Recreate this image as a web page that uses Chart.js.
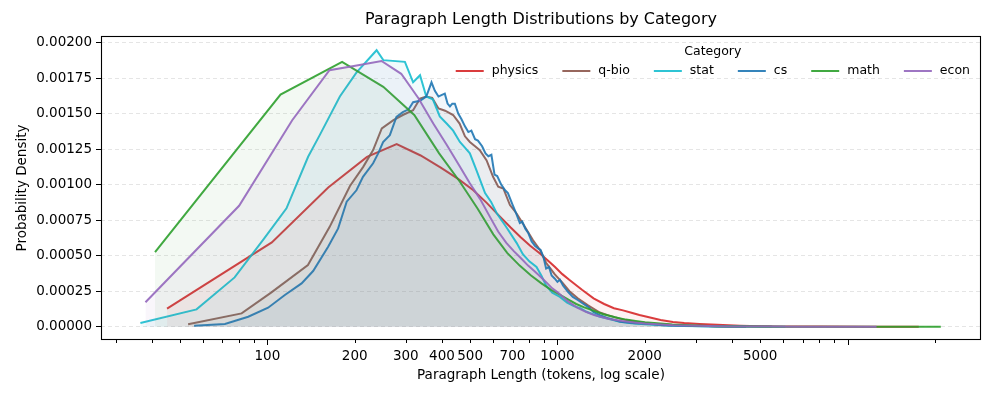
<!DOCTYPE html>
<html>
<head>
<meta charset="utf-8">
<script src="https://cdn.jsdelivr.net/npm/chart.js@4/dist/chart.umd.min.js"></script>
<style>
  html, body { margin: 0; padding: 0; background: #fff; }
  #wrap { width: 996px; height: 399px; position: relative; }
</style>
</head>
<body>
<div id="wrap"><canvas id="c" width="996" height="399"></canvas></div>
<script>
// ---- data ----
const categories = ['physics', 'q-bio', 'stat', 'cs', 'math', 'econ'];
const colors = ['214,39,40', '140,86,75', '23,190,207', '31,119,180', '44,160,44', '148,103,189'];

const physicsX = [45.1,103.6,162.1,220.6,279.1,337.6,396.1,454.6,513.1,571.6,630.1,688.6,747.1,805.6,864.1,922.6,981.1,1039.6,1098.1,1215.1,1332.1,1449.1,1566.1,1683.1,1800.1,1917.1,2034.1,2268.1,2502.1,2736.1,3087.1,3555.1,4257.1,5000,6000,8000,12000,17600];
const physicsY = [0.000127,0.000593,0.00098,0.001195,0.001285,0.001205,0.00112,0.00104,0.00096,0.00087,0.00078,0.0007,0.00063,0.00057,0.00052,0.00047,0.00042,0.00037,0.00033,0.00026,0.0002,0.00016,0.00013,0.000115,0.000098,0.000082,0.00007,0.000047,0.000034,0.000026,0.000019,0.000013,0.000007,0.000004,0.000002,0.0000008,0.0000003,0.0000001];

const qbioX = [53.3,81.5,103,138,164,192.6,214,231.5,248,272,293,318,336,353,370,389,410,437,460,480,499,520,540,570,600,625,651,686,723,760,823,871,914,978,1040,1100,1175,1275,1400,1500,1650,1850,2100,2500,3000,4000,5500];
const qbioY = [0.000017,0.000094,0.00024,0.000434,0.000703,0.00099,0.001125,0.001243,0.001395,0.001454,0.00149,0.001524,0.001606,0.00162,0.00161,0.001536,0.00152,0.00149,0.00143,0.00134,0.0013,0.00127,0.001243,0.00117,0.001055,0.000985,0.000973,0.000856,0.000797,0.000727,0.00061,0.00054,0.00045,0.00037,0.00031,0.00025,0.0002,0.00015,0.0001,0.00008,0.000055,0.000035,0.000022,0.000012,0.000006,0.000002,0.0000007];

const statX = [36.5,57,77.1,97.4,116.4,138.2,151.7,177.8,203,238,251,298,318,336,353,372,393,415,437,461,480,499,526,563,590,617,667,723,760,800,847,880,914,960,1020,1080,1140,1200,1260,1320,1402,1500,1640,1800,2000,2300,2700,3200,4000,5000,6100];
const statY = [0.000026,0.000122,0.000347,0.00062,0.000833,0.001196,0.00135,0.00162,0.00179,0.001946,0.001876,0.001864,0.00172,0.00177,0.00162,0.0016,0.00148,0.00143,0.00138,0.0013,0.00126,0.00122,0.0011,0.00094,0.00088,0.0008,0.0007,0.00059,0.00051,0.00046,0.00042,0.00036,0.00029,0.00024,0.00021,0.00017,0.000145,0.00013,0.000105,0.00009,0.00007,0.000055,0.000035,0.000025,0.000017,0.00001,0.000005,0.000003,0.000001,0.0000005,0.0000002];

const csX = [55.9,71.4,85.9,100.6,114.9,131.2,143.8,162,175.4,187.7,202.8,213.6,231.5,241,250.6,264.4,278.6,293,307,318,336,353,368,378,389,398,409,418,426,434,443,455,467,480,493,505,520,532,550,565,578,592,607,620,640,660,675,700,720,742,756,775,793,815,836,860,875,895,914,935,955,978,1000,1020,1045,1087,1130,1175,1220,1275,1330,1402,1500,1650,1850,2085,2400,2900,3500,4470];
const csY = [0.000007,0.000019,0.00007,0.000134,0.000223,0.000305,0.000392,0.000563,0.000692,0.00088,0.00096,0.001055,0.00115,0.00122,0.0013,0.001348,0.001477,0.00151,0.00153,0.00158,0.00159,0.00162,0.00172,0.00166,0.00162,0.00163,0.00164,0.00157,0.00155,0.00157,0.00157,0.0015,0.00146,0.00141,0.00137,0.00138,0.00132,0.00131,0.00127,0.00122,0.0012,0.00121,0.00107,0.00106,0.001,0.00096,0.00094,0.00086,0.0008,0.00073,0.00074,0.00069,0.00066,0.0006,0.00057,0.00055,0.00054,0.00049,0.00041,0.00042,0.00036,0.00034,0.000316,0.00033,0.00029,0.000246,0.00021,0.000188,0.000165,0.00014,0.000105,0.000082,0.000059,0.000035,0.000025,0.000019,0.000009,0.000005,0.000002,0.0000005];

const mathX = [41,111,181,251,321,391,461,531,601,671,741,811,881,951,1021,1091,1161,1231,1301,1441,1581,1721,1861,2001,2491,2981,3481,4481,5481,7001,10001,15001,20971];
const mathY = [0.000525,0.001634,0.001864,0.001688,0.00149,0.00122,0.00102,0.00083,0.00065,0.00052,0.00043,0.00036,0.000305,0.00026,0.000225,0.00019,0.00016,0.000138,0.00012,0.000088,0.000066,0.00005,0.00004,0.000032,0.000016,0.000008,0.000004,0.0000015,0.0000006,0.0000002,0.0000001,0.00000005,0.00000003];

const econX = [38,79.9,121.8,163.7,205.6,247.5,289.4,331.3,373.2,415.1,457,498.9,540.8,582.7,624.6,666.5,708.4,750.3,792.2,834.1,876,917.9,959.8,1001.7,1085.5,1169.3,1253.1,1336.9,1504.5,1672.1,1839.7,2007.3,2509.9,3012.7,4018.3,5023.9,7035.1,10051,12590];
const econY = [0.000172,0.000851,0.001453,0.001805,0.00184,0.00187,0.00178,0.00161,0.00143,0.00128,0.00114,0.00101,0.0009,0.00078,0.00067,0.00059,0.00053,0.00048,0.00043,0.00039,0.00035,0.00031,0.00027,0.000242,0.00018,0.000135,0.000105,0.000082,0.000055,0.00004,0.00003,0.000022,0.000011,0.000006,0.000002,0.0000008,0.0000003,0.0000001,0.00000005];

const xTickValues = [30,40,50,60,70,80,90,100,200,300,400,500,600,700,800,900,1000,2000,3000,4000,5000,6000,7000,8000,9000,10000,20000];
const xTickLabels = [100,200,300,400,500,700,1000,2000,5000];
const xMajor = [100,1000,10000];
const yTickValues = [0,0.00025,0.0005,0.00075,0.001,0.00125,0.0015,0.00175,0.002];

const titleText = 'Paragraph Length Distributions by Category';
const xTitle = 'Paragraph Length (tokens, log scale)';
const yTitle = 'Probability Density';
const legendTitle = 'Category';

// ---- build chart ----
const seriesX = [physicsX, qbioX, statX, csX, mathX, econX];
const seriesY = [physicsY, qbioY, statY, csY, mathY, econY];
const FONT = 'DejaVu Sans';

const datasets = categories.map((name, i) => ({
  label: name,
  data: seriesX[i].map((x, k) => ({ x: x, y: seriesY[i][k] })),
  borderColor: 'rgba(' + colors[i] + ',0.9)',
  backgroundColor: 'rgba(' + colors[i] + ',0.06)',
  borderWidth: 2,
  pointRadius: 0,
  tension: 0,
  fill: 'origin',
  order: categories.length - i
}));

const decor = {
  id: 'decor',
  afterDraw(chart) {
    const { ctx, chartArea: a, scales } = chart;
    ctx.save();
    // frame
    ctx.strokeStyle = '#000';
    ctx.lineWidth = 1.1;
    ctx.strokeRect(Math.round(a.left) + 0.5, Math.round(a.top) + 0.5,
                   Math.round(a.right - a.left) - 1, Math.round(a.bottom - a.top) - 1);
    // x tick marks
    ctx.lineWidth = 1;
    xTickValues.forEach(v => {
      const px = Math.round(scales.x.getPixelForValue(v)) + 0.5;
      const len = xMajor.includes(v) ? 5 : 3;
      ctx.beginPath();
      ctx.moveTo(px, a.bottom);
      ctx.lineTo(px, a.bottom + len);
      ctx.stroke();
    });
    // title
    ctx.fillStyle = '#000';
    ctx.font = '16px "' + FONT + '"';
    ctx.textAlign = 'center';
    ctx.textBaseline = 'middle';
    ctx.fillText(titleText, (a.left + a.right) / 2, 20);
    // legend
    ctx.font = '12.5px "' + FONT + '"';
    const handle = 28, gap = 8, colGap = 24;
    const widths = categories.map(c => ctx.measureText(c).width);
    let total = 0;
    widths.forEach((w, i) => { total += handle + gap + w + (i < widths.length - 1 ? colGap : 0); });
    const right = 970;
    let x = right - total;
    const startX = x;
    const rowY = 71;
    ctx.textAlign = 'left';
    categories.forEach((c, i) => {
      ctx.strokeStyle = 'rgba(' + colors[i] + ',0.9)';
      ctx.lineWidth = 2;
      ctx.beginPath();
      ctx.moveTo(x, rowY);
      ctx.lineTo(x + handle, rowY);
      ctx.stroke();
      ctx.fillStyle = '#000';
      ctx.fillText(c, x + handle + gap, rowY);
      x += handle + gap + widths[i] + colGap;
    });
    ctx.textAlign = 'center';
    ctx.fillText(legendTitle, (startX + right) / 2, 52);
    ctx.restore();
  }
};

new Chart(document.getElementById('c'), {
  type: 'line',
  data: { datasets: datasets },
  plugins: [decor],
  options: {
    responsive: false,
    animation: false,
    devicePixelRatio: 1,
    layout: { padding: { top: 36, right: 15, left: 0, bottom: 0 } },
    plugins: { legend: { display: false }, title: { display: false }, tooltip: { enabled: false } },
    scales: {
      x: {
        type: 'logarithmic',
        min: 26.7,
        max: 28850,
        afterBuildTicks: s => { s.ticks = xTickValues.map(v => ({ value: v })); },
        afterFit: s => { s.height = 59; },
        grid: { display: false, drawTicks: false },
        border: { display: false },
        ticks: {
          autoSkip: false, maxRotation: 0, minRotation: 0, padding: 8,
          color: '#000', font: { family: FONT, size: 13.5 },
          callback: v => (xTickLabels.includes(v) ? String(v) : '')
        },
        title: { display: true, text: xTitle, color: '#000', font: { family: FONT, size: 13.5 }, padding: { top: 0, bottom: 15 } }
      },
      y: {
        type: 'linear',
        min: -0.0000935,
        max: 0.002046,
        afterBuildTicks: s => { s.ticks = yTickValues.map(v => ({ value: v })); },
        afterFit: s => { s.width = 101; },
        grid: { color: 'rgba(200,200,200,0.6)', lineWidth: 0.8, drawTicks: true, tickLength: 5, tickColor: '#000', tickWidth: 1, tickBorderDash: [] },
        border: { display: false, dash: [4, 3] },
        ticks: {
          padding: 4, color: '#000', font: { family: FONT, size: 13.5 },
          callback: v => v.toFixed(5)
        },
        title: { display: true, text: yTitle, color: '#000', font: { family: FONT, size: 13.5 }, padding: { top: 14, bottom: 0 } }
      }
    }
  }
});
</script>
</body>
</html>
